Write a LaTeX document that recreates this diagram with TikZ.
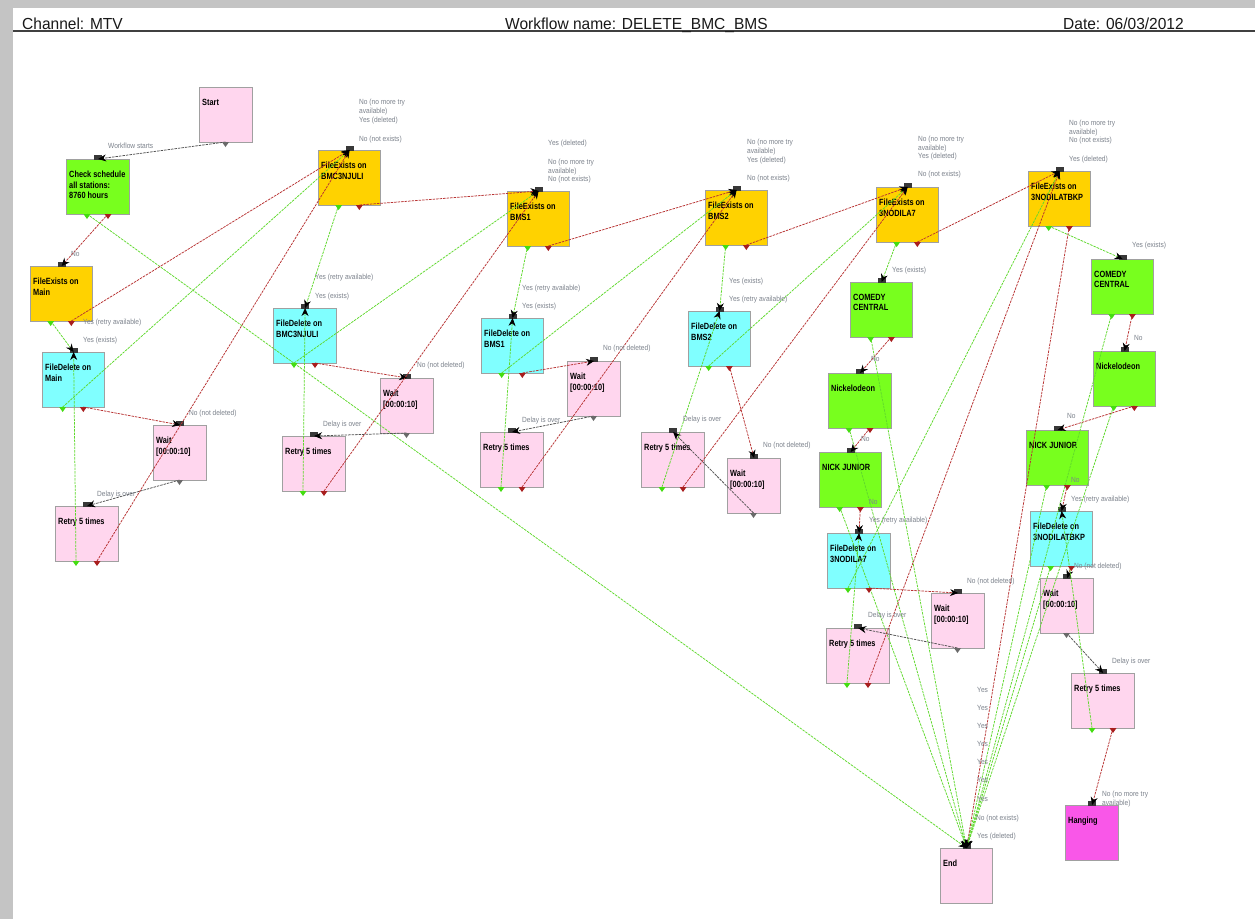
\documentclass[tikz,border=0pt]{standalone}
\usepackage{fontspec}
\setmainfont{Liberation Sans}
\newfontfamily\boxfont[FakeStretch=0.82]{Liberation Sans}
\newfontfamily\lblfont[FakeStretch=0.88]{Liberation Sans}
\newfontfamily\hdrfont[FakeStretch=0.97]{Liberation Sans}
\usetikzlibrary{arrows.meta}

\definecolor{wfpink}{HTML}{FFD6EE}
\definecolor{wfgreen}{HTML}{78FF1E}
\definecolor{wfyellow}{HTML}{FFD200}
\definecolor{wfcyan}{HTML}{80FFFF}
\definecolor{wfmagenta}{HTML}{F957E8}
\definecolor{wfborder}{HTML}{A0A0A0}
\definecolor{lngreen}{HTML}{5FD92C}
\definecolor{lnred}{HTML}{B83232}
\definecolor{lngray}{HTML}{505050}
\definecolor{ptgreen}{HTML}{44DD11}
\definecolor{ptred}{HTML}{A81E1E}
\definecolor{ptgray}{HTML}{6A6A6A}
\definecolor{lbl}{HTML}{7C828C}
\definecolor{frame}{HTML}{C4C4C4}

\tikzset{
  wfbox/.style={draw=wfborder, line width=1.2pt, minimum height=55pt, inner sep=0pt, anchor=north west},
  boxtext/.style={anchor=north west, inner sep=0pt, align=left, font=\boxfont\bfseries\fontsize{9}{10.5}\selectfont},
  hdr/.style={anchor=base west, inner sep=0pt, text=black!90, font=\hdrfont\fontsize{16}{18}\selectfont},
  lab/.style={anchor=base west, inner sep=0pt, text=lbl, font=\lblfont\fontsize{7.5}{9}\selectfont},
  link/.style={line width=0.75pt, dash pattern=on 2.5pt off 1pt, -{Stealth[length=8pt,width=7pt,color=black]}},
  gedge/.style={link, draw=lngreen},
  redge/.style={link, draw=lnred},
  kedge/.style={link, draw=lngray},
}

% box with its text and output port coordinates (green, red, single)
\newcommand{\wfnode}[6]{%
  \node[wfbox, fill=#5, minimum width=#4pt] (#1) at (#2,#3) {};
  \node[boxtext] (#1-t) at ({#2+3},{#3+12}) {#6};
  \coordinate (#1-g) at ({#2+#4/3},{#3+55});
  \coordinate (#1-r) at ({#2+2*#4/3},{#3+55});
  \coordinate (#1-o) at ({#2+#4/2},{#3+55});
}
\newcommand{\porttri}[2]{\fill[#2] ([xshift=-3.5pt]#1) -- ([xshift=3.5pt]#1) -- ([yshift=-5pt]#1) -- cycle;}
\newcommand{\inport}[1]{\fill[lngray!70!black] ([xshift=-4pt,yshift=-1pt]#1.north) rectangle ([xshift=4pt,yshift=4pt]#1.north);}

\begin{document}
\begin{tikzpicture}[x=1pt,y=-1pt]
\useasboundingbox (0,0) rectangle (1255,919);
\fill[white] (0,0) rectangle (1255,919);
% page frame and header
\fill[frame] (0,0) rectangle (1255,8);
\fill[frame] (0,0) rectangle (13,919);
\draw[black!75, line width=1.5pt] (13,31) -- (1255,31);
\node[hdr] (hdrA) at (22,29) {Channel: MTV};
\node[hdr] (hdrB) at (505,29) {Workflow name: DELETE\_BMC\_BMS};
\node[hdr] (hdrC) at (1063,29) {Date: 06/03/2012};

% activities
\wfnode{start}{199}{87}{53}{wfpink}{Start}
\wfnode{check}{66}{159}{63}{wfgreen}{Check schedule\\all stations:\\8760 hours}
\wfnode{feMain}{30}{266}{62}{wfyellow}{FileExists on\\Main}
\wfnode{fdMain}{42}{352}{62}{wfcyan}{FileDelete on\\Main}
\wfnode{waitA}{153}{425}{53}{wfpink}{Wait\\{[00:00:10]}}
\wfnode{retryA}{55}{506}{63}{wfpink}{Retry 5 times}
\wfnode{feBMC}{318}{150}{62}{wfyellow}{FileExists on\\BMC3NJULI}
\wfnode{fdBMC}{273}{308}{63}{wfcyan}{FileDelete on\\BMC3NJULI}
\wfnode{waitB}{380}{378}{53}{wfpink}{Wait\\{[00:00:10]}}
\wfnode{retryB}{282}{436}{63}{wfpink}{Retry 5 times}
\wfnode{feBMS1}{507}{191}{62}{wfyellow}{FileExists on\\BMS1}
\wfnode{fdBMS1}{481}{318}{62}{wfcyan}{FileDelete on\\BMS1}
\wfnode{waitC}{567}{361}{53}{wfpink}{Wait\\{[00:00:10]}}
\wfnode{retryC}{480}{432}{63}{wfpink}{Retry 5 times}
\wfnode{feBMS2}{705}{190}{62}{wfyellow}{FileExists on\\BMS2}
\wfnode{fdBMS2}{688}{311}{62}{wfcyan}{FileDelete on\\BMS2}
\wfnode{retryD}{641}{432}{63}{wfpink}{Retry 5 times}
\wfnode{waitD}{727}{458}{53}{wfpink}{Wait\\{[00:00:10]}}
\wfnode{fe3N7}{876}{187}{62}{wfyellow}{FileExists on\\3NODILA7}
\wfnode{ccA}{850}{282}{62}{wfgreen}{COMEDY\\CENTRAL}
\wfnode{nickA}{828}{373}{63}{wfgreen}{Nickelodeon}
\wfnode{njA}{819}{452}{62}{wfgreen}{NICK JUNIOR}
\wfnode{fd3N7}{827}{533}{63}{wfcyan}{FileDelete on\\3NODILA7}
\wfnode{waitE}{931}{593}{53}{wfpink}{Wait\\{[00:00:10]}}
\wfnode{retryE}{826}{628}{63}{wfpink}{Retry 5 times}
\wfnode{feBKP}{1028}{171}{62}{wfyellow}{FileExists on\\3NODILATBKP}
\wfnode{ccB}{1091}{259}{62}{wfgreen}{COMEDY\\CENTRAL}
\wfnode{nickB}{1093}{351}{62}{wfgreen}{Nickelodeon}
\wfnode{njB}{1026}{430}{62}{wfgreen}{NICK JUNIOR}
\wfnode{fdBKP}{1030}{511}{62}{wfcyan}{FileDelete on\\3NODILATBKP}
\wfnode{waitF}{1040}{578}{53}{wfpink}{Wait\\{[00:00:10]}}
\wfnode{retryF}{1071}{673}{63}{wfpink}{Retry 5 times}
\wfnode{hanging}{1065}{805}{53}{wfmagenta}{Hanging}
\wfnode{wfEnd}{940}{848}{52}{wfpink}{End}

% input ports
\foreach \n in {check,feMain,fdMain,waitA,retryA,feBMC,fdBMC,waitB,retryB,
  feBMS1,fdBMS1,waitC,retryC,feBMS2,fdBMS2,retryD,waitD,fe3N7,ccA,nickA,njA,
  fd3N7,waitE,retryE,feBKP,ccB,nickB,njB,fdBKP,waitF,retryF,hanging,wfEnd}
  {\inport{\n}}

% Main
\draw[kedge] (start-o) -- (check.north);
\draw[redge] (check-r) -- (feMain.north);
\draw[gedge] (check-g) -- (wfEnd.north);
\draw[gedge] (feMain-g) -- (fdMain.north);
\draw[redge] (feMain-r) -- (feBMC.north);
\draw[gedge] (fdMain-g) -- (feBMC.north);
\draw[redge] (fdMain-r) -- (waitA.north);
\draw[kedge] (waitA-o) -- (retryA.north);
\draw[gedge] (retryA-g) -- (fdMain.north);
\draw[redge] (retryA-r) -- (feBMC.north);
% BMC3NJULI
\draw[gedge] (feBMC-g) -- (fdBMC.north);
\draw[redge] (feBMC-r) -- (feBMS1.north);
\draw[gedge] (fdBMC-g) -- (feBMS1.north);
\draw[redge] (fdBMC-r) -- (waitB.north);
\draw[kedge] (waitB-o) -- (retryB.north);
\draw[gedge] (retryB-g) -- (fdBMC.north);
\draw[redge] (retryB-r) -- (feBMS1.north);
% BMS1
\draw[gedge] (feBMS1-g) -- (fdBMS1.north);
\draw[redge] (feBMS1-r) -- (feBMS2.north);
\draw[gedge] (fdBMS1-g) -- (feBMS2.north);
\draw[redge] (fdBMS1-r) -- (waitC.north);
\draw[kedge] (waitC-o) -- (retryC.north);
\draw[gedge] (retryC-g) -- (fdBMS1.north);
\draw[redge] (retryC-r) -- (feBMS2.north);
% BMS2
\draw[gedge] (feBMS2-g) -- (fdBMS2.north);
\draw[redge] (feBMS2-r) -- (fe3N7.north);
\draw[gedge] (fdBMS2-g) -- (fe3N7.north);
\draw[redge] (fdBMS2-r) -- (waitD.north);
\draw[kedge] (waitD-o) -- (retryD.north);
\draw[gedge] (retryD-g) -- (fdBMS2.north);
\draw[redge] (retryD-r) -- (fe3N7.north);
% 3NODILA7
\draw[gedge] (fe3N7-g) -- (ccA.north);
\draw[redge] (fe3N7-r) -- (feBKP.north);
\draw[gedge] (ccA-g) -- (wfEnd.north);
\draw[redge] (ccA-r) -- (nickA.north);
\draw[gedge] (nickA-g) -- (wfEnd.north);
\draw[redge] (nickA-r) -- (njA.north);
\draw[gedge] (njA-g) -- (wfEnd.north);
\draw[redge] (njA-r) -- (fd3N7.north);
\draw[gedge] (fd3N7-g) -- (feBKP.north);
\draw[redge] (fd3N7-r) -- (waitE.north);
\draw[kedge] (waitE-o) -- (retryE.north);
\draw[gedge] (retryE-g) -- (fd3N7.north);
\draw[redge] (retryE-r) -- (feBKP.north);
% 3NODILATBKP
\draw[gedge] (feBKP-g) -- (ccB.north);
\draw[redge] (feBKP-r) -- (wfEnd.north);
\draw[gedge] (ccB-g) -- (wfEnd.north);
\draw[redge] (ccB-r) -- (nickB.north);
\draw[gedge] (nickB-g) -- (wfEnd.north);
\draw[redge] (nickB-r) -- (njB.north);
\draw[gedge] (njB-g) -- (wfEnd.north);
\draw[redge] (njB-r) -- (fdBKP.north);
\draw[gedge] (fdBKP-g) -- (wfEnd.north);
\draw[redge] (fdBKP-r) -- (waitF.north);
\draw[kedge] (waitF-o) -- (retryF.north);
\draw[gedge] (retryF-g) -- (fdBKP.north);
\draw[redge] (retryF-r) -- (hanging.north);

% output ports
\foreach \n in {check,feMain,fdMain,retryA,feBMC,fdBMC,retryB,feBMS1,fdBMS1,retryC,
  feBMS2,fdBMS2,retryD,fe3N7,ccA,nickA,njA,fd3N7,retryE,feBKP,ccB,nickB,njB,fdBKP,retryF}
  {\porttri{\n-g}{ptgreen}\porttri{\n-r}{ptred}}
\foreach \n in {start,waitA,waitB,waitC,waitD,waitE,waitF}
  {\porttri{\n-o}{ptgray}}

% connector labels
\node[lab] at (108,148) {Workflow starts};
\node[lab] at (71,256) {No};
\node[lab] at (83,324) {Yes (retry available)};
\node[lab] at (83,342) {Yes (exists)};
\node[lab] at (189,415) {No (not deleted)};
\node[lab] at (97,496) {Delay is over};

\node[lab] at (359,104) {No (no more try};
\node[lab] at (359,113) {available)};
\node[lab] at (359,122) {Yes (deleted)};
\node[lab] at (359,141) {No (not exists)};
\node[lab] at (315,279) {Yes (retry available)};
\node[lab] at (315,298) {Yes (exists)};
\node[lab] at (417,367) {No (not deleted)};
\node[lab] at (323,426) {Delay is over};

\node[lab] at (548,145) {Yes (deleted)};
\node[lab] at (548,164) {No (no more try};
\node[lab] at (548,173) {available)};
\node[lab] at (548,181) {No (not exists)};
\node[lab] at (522,290) {Yes (retry available)};
\node[lab] at (522,308) {Yes (exists)};
\node[lab] at (603,350) {No (not deleted)};
\node[lab] at (522,422) {Delay is over};

\node[lab] at (747,144) {No (no more try};
\node[lab] at (747,153) {available)};
\node[lab] at (747,162) {Yes (deleted)};
\node[lab] at (747,180) {No (not exists)};
\node[lab] at (729,283) {Yes (exists)};
\node[lab] at (729,301) {Yes (retry available)};
\node[lab] at (683,421) {Delay is over};
\node[lab] at (763,447) {No (not deleted)};

\node[lab] at (918,141) {No (no more try};
\node[lab] at (918,150) {available)};
\node[lab] at (918,158) {Yes (deleted)};
\node[lab] at (918,176) {No (not exists)};
\node[lab] at (892,272) {Yes (exists)};
\node[lab] at (871,361) {No};
\node[lab] at (861,441) {No};
\node[lab] at (869,504) {No};
\node[lab] at (869,522) {Yes (retry available)};
\node[lab] at (967,583) {No (not deleted)};
\node[lab] at (868,617) {Delay is over};

\node[lab] at (1069,125) {No (no more try};
\node[lab] at (1069,134) {available)};
\node[lab] at (1069,142) {No (not exists)};
\node[lab] at (1069,161) {Yes (deleted)};
\node[lab] at (1132,247) {Yes (exists)};
\node[lab] at (1134,340) {No};
\node[lab] at (1067,418) {No};
\node[lab] at (1071,482) {No};
\node[lab] at (1071,501) {Yes (retry available)};
\node[lab] at (1074,568) {No (not deleted)};
\node[lab] at (1112,663) {Delay is over};
\node[lab] at (1102,796) {No (no more try};
\node[lab] at (1102,805) {available)};

\foreach \yy in {692,710,728,746,764,782,801}
  {\node[lab] at (977,\yy) {Yes};}
\node[lab] at (976,820) {No (not exists)};
\node[lab] at (977,838) {Yes (deleted)};
\end{tikzpicture}
\end{document}
